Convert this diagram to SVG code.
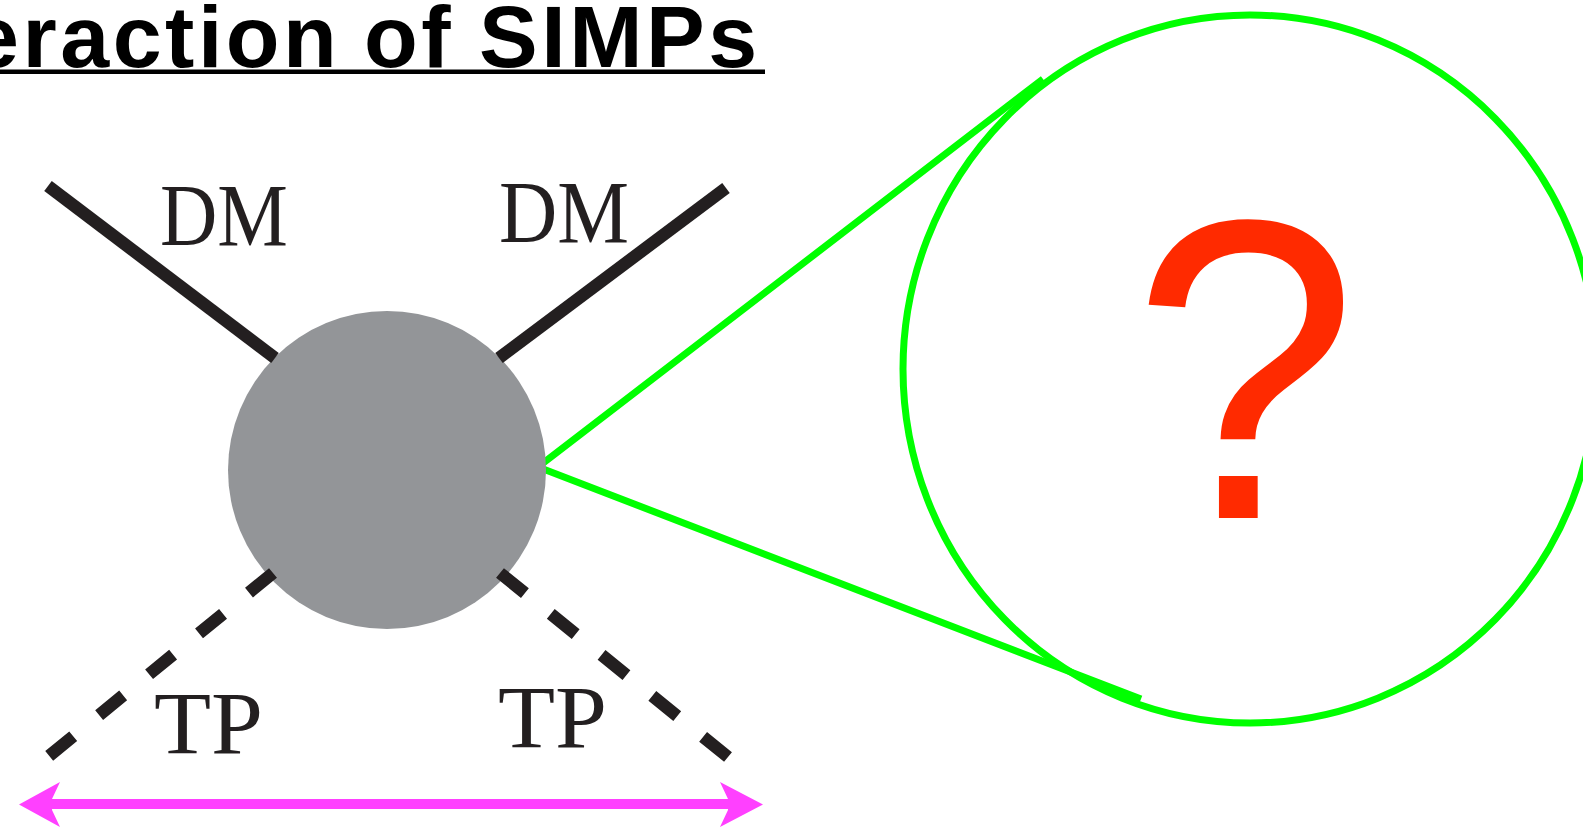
<svg xmlns="http://www.w3.org/2000/svg" width="1583" height="827" viewBox="0 0 1583 827">
<style>
.title{font-family:"Liberation Sans",Arial,sans-serif;font-weight:bold;font-size:88px;letter-spacing:3.5px;fill:#000}
.lbl{font-family:"Liberation Serif","Times New Roman",serif;font-size:88px;fill:#231f20}
.solid{stroke:#231f20;stroke-width:12.5;fill:none}
.dash{stroke:#231f20;stroke-width:12.5;fill:none}
.green{stroke:#00ff00;stroke-width:7;fill:none}
</style>
<rect width="1583" height="827" fill="#fff"/>
<g id="title">
<text class="title" y="67"><tspan x="-30">eraction</tspan><tspan x="364">of</tspan><tspan x="479">SIMPs</tspan></text>
<rect x="0" y="69.5" width="765" height="4.5" fill="#000"/>
</g>
<g id="zoom-callout">
<polyline class="green" points="1043,79 538,467 1141,699"/>
<ellipse class="green" cx="1250" cy="369" rx="347" ry="354"/>
<text transform="translate(1132,518) scale(0.95,1)" x="0" y="0" font-family="'Liberation Sans',Arial,sans-serif" font-size="428" fill="#ff2a00">?</text>
</g>
<g id="blob">
<circle cx="387" cy="470" r="159" fill="#939598"/>
</g>
<g id="connectors">
<line class="solid" x1="48" y1="186" x2="275" y2="358"/>
<line class="solid" x1="726" y1="188" x2="499" y2="358"/>
<line class="dash" x1="273" y1="573" x2="49" y2="756" stroke-dasharray="31 33.5"/>
<line class="dash" x1="500" y1="573" x2="728" y2="757" stroke-dasharray="32 33.25"/>
<g id="range-arrow" fill="#ff40ff">
<rect x="52" y="799" width="676" height="10"/>
<polygon points="19,804.5 60,782 52,799 52,810 60,827"/>
<polygon points="763,804.5 720,782 728,799 728,810 720,827"/>
</g>
</g>
<g id="label-dm-left"><text class="lbl" x="160" y="245" textLength="128" lengthAdjust="spacingAndGlyphs">DM</text></g>
<g id="label-dm-right"><text class="lbl" x="499" y="242" textLength="130" lengthAdjust="spacingAndGlyphs">DM</text></g>
<g id="label-tp-left"><text class="lbl" x="154" y="753" textLength="109" lengthAdjust="spacingAndGlyphs">TP</text></g>
<g id="label-tp-right"><text class="lbl" x="498" y="747" textLength="109" lengthAdjust="spacingAndGlyphs">TP</text></g>
</svg>
